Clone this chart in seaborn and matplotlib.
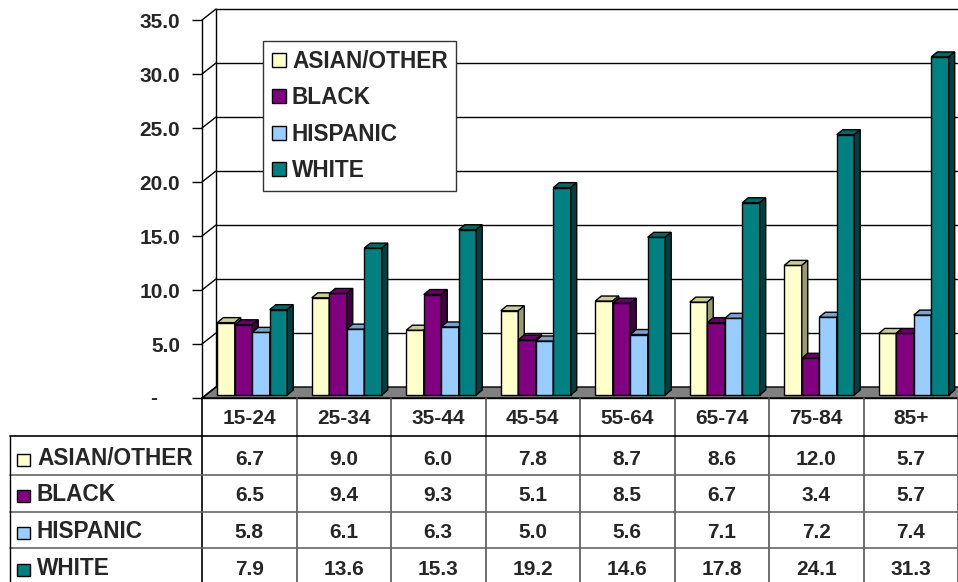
import matplotlib
matplotlib.use("Agg")
import matplotlib.pyplot as plt
from matplotlib.patches import Polygon, Rectangle, Patch
from matplotlib.lines import Line2D
from matplotlib.transforms import (Affine2D, IdentityTransform, ScaledTranslation,
                                   blended_transform_factory)
import numpy as np
import pandas as pd
import seaborn as sns

# ---- data -------------------------------------------------------------
age_groups = ["15-24", "25-34", "35-44", "45-54", "55-64", "65-74", "75-84", "85+"]
groups = ["ASIAN/OTHER", "BLACK", "HISPANIC", "WHITE"]
asian_other = [6.7, 9.0, 6.0, 7.8, 8.7, 8.6, 12.0, 5.7]
black = [6.5, 9.4, 9.3, 5.1, 8.5, 6.7, 3.4, 5.7]
hispanic = [5.8, 6.1, 6.3, 5.0, 5.6, 7.1, 7.2, 7.4]
white = [7.9, 13.6, 15.3, 19.2, 14.6, 17.8, 24.1, 31.3]
y_ticks = [0, 5, 10, 15, 20, 25, 30, 35]
y_tick_labels = ["", "5.0", "10.0", "15.0", "20.0", "25.0", "30.0", "35.0"]

series = [asian_other, black, hispanic, white]

# face colours: front, top, side
front_col = ["#FFFFCC", "#800080", "#99CCFF", "#008080"]
top_col = ["#CCCC99", "#660066", "#7AA3CC", "#006666"]
side_col = ["#999973", "#400040", "#4D6680", "#004040"]

W, H = 958, 582
sns.set_style("white")
plt.rcParams["font.family"] = ["Liberation Sans", "DejaVu Sans"]
plt.rcParams["font.weight"] = "bold"
FS = 15        # numbers
FS_WORD = 16.3  # series names

fig = plt.figure(figsize=(W / 100, H / 100), dpi=100)
# front plane of the plot: x 202..958 px, value 0 at y=398 px, 35 at y=20 px
ax = fig.add_axes([202 / W, (H - 398) / H, 756 / W, 378 / H])

df = pd.DataFrame({
    "age": age_groups * len(groups),
    "group": [g for g in groups for _ in age_groups],
    "rate": [v for s in series for v in s],
})
sns.barplot(data=df, x="age", y="rate", hue="group", order=age_groups,
            hue_order=groups, palette=front_col, saturation=1, width=0.74,
            gap=0, edgecolor="black", linewidth=1.0, errorbar=None,
            legend=False, ax=ax)

ax.set_xlim(-0.5, len(age_groups) - 0.5)
ax.set_ylim(0, 35)
ax.set_xlabel("")
ax.set_ylabel("")
ax.set_xticks([])
ax.set_yticks(y_ticks)
ax.set_yticklabels(y_tick_labels)
ax.tick_params(axis="y", left=True, length=7.2, width=1, color="black",
               pad=8.6, labelsize=FS)
for lab in ax.get_yticklabels():
    lab.set_fontweight("bold")
for s in ["top", "right", "bottom"]:
    ax.spines[s].set_visible(False)
ax.spines["left"].set_color("black")
ax.spines["left"].set_linewidth(1)
ax.spines["left"].set_zorder(6)
ax.patch.set_alpha(0)

ident = IdentityTransform()
DX, DY = 14, 11      # depth of the back wall, px
BX, BY = 3, 3        # bar front plane set back from the floor edge, px
BDX, BDY = 6, 5      # bar depth, px


def D(x, y):
    return np.asarray(ax.transData.transform((x, y)))


def line(p, q, color="black", lw=1.0, z=1.5):
    ax.add_line(Line2D([p[0], q[0]], [p[1], q[1]], transform=ident,
                       color=color, lw=lw, zorder=z, clip_on=False))


off = np.array([DX, DY])
x_lo, x_hi = -0.5, len(age_groups) - 0.5

# floor
fl = D(x_lo, 0)
fr = D(x_hi, 0) + np.array([40, 0])
ax.add_patch(Polygon([fl, fr, fr + off, fl + off], closed=True, transform=ident,
                     facecolor="#808080", edgecolor="black", lw=1.0, zorder=1.2,
                     clip_on=False))

# back wall: left edge, gridlines and the diagonal links to the front axis
line(D(x_lo, 0) + off, D(x_lo, 35) + off, z=1.4)
for v in y_ticks:
    if v > 0:
        line(D(x_lo, v) + off, D(x_hi, v) + off + np.array([40, 0]), z=1.3)
    line(D(x_lo, v), D(x_lo, v) + off, z=1.4)

# "-" label for zero
ax.text(0, 0, "-", transform=ax.get_yaxis_transform() + ScaledTranslation(-0.52, 0, fig.dpi_scale_trans),
        ha="left", va="center", fontsize=FS, fontweight="bold")

# 3-D bars: move the seaborn fronts onto the bar plane and add top/side faces
shift = ScaledTranslation(BX / 100, BY / 100, fig.dpi_scale_trans)
boff = np.array([BX, BY])
bdep = np.array([BDX, BDY])
for k, cont in enumerate(ax.containers):
    for rect in cont:
        rect.set_transform(ax.transData + shift)
        rect.set_zorder(3 + k)
        x0, w, h = rect.get_x(), rect.get_width(), rect.get_height()
        br = D(x0 + w, 0) + boff
        tl = D(x0, h) + boff
        tr = D(x0 + w, h) + boff
        ax.add_patch(Polygon([tl, tr, tr + bdep, tl + bdep], closed=True,
                             transform=ident, facecolor=top_col[k],
                             edgecolor="black", lw=1.0, zorder=3 + k, clip_on=False))
        ax.add_patch(Polygon([br, br + bdep, tr + bdep, tr], closed=True,
                             transform=ident, facecolor=side_col[k],
                             edgecolor="black", lw=1.0, zorder=3 + k, clip_on=False))

# legend
handles = [Patch(facecolor=c, edgecolor="black", linewidth=1) for c in front_col]
leg = ax.legend(handles, groups, loc="upper left", bbox_to_anchor=(263, H - 41),
                bbox_transform=ident, borderaxespad=0, frameon=True,
                fancybox=False, framealpha=1, edgecolor="#333333",
                prop={"size": FS_WORD, "weight": "bold"}, borderpad=0.38,
                labelspacing=0.6, handlelength=0.62, handleheight=0.58,
                handletextpad=0.28)
leg.get_frame().set_linewidth(1)
leg.set_zorder(20)

# ---- data table beneath the plot ---------------------------------------
ytop = Affine2D().scale(1, -1).translate(0, H)   # pixel rows counted from the top
col_tr = blended_transform_factory(ax.transData, ytop)

row_lines = [436, 475, 512, 548]
baselines = [424, 465, 501, 538, 575]

# front edge of the floor / top of the header row
line(D(x_lo, 0), D(x_hi, 0) + np.array([40, 0]), z=2)
# column boundaries
for j in range(len(age_groups) + 1):
    xj = D(x_lo + j, 0)[0]
    line((xj, H - 398), (xj, -5), color="#555555" if j else "black", lw=1.2, z=2)
# row boundaries
for i, yl in enumerate(row_lines):
    line((10, H - yl), (W + 5, H - yl), color="black" if i == 0 else "#666666",
         lw=1.2, z=2)
line((10, H - 436), (10, -5), z=2)

for j, lab in enumerate(age_groups):
    ax.text(j, baselines[0], lab, transform=col_tr, ha="center", va="baseline",
            fontsize=FS, fontweight="bold", clip_on=False)

for i, (g, vals) in enumerate(zip(groups, series)):
    b = baselines[i + 1]
    ax.add_patch(Rectangle((17, H - b - 1), 13, 12, transform=ident,
                           facecolor=front_col[i], edgecolor="black", lw=1.0,
                           zorder=5, clip_on=False))
    ax.text(37, H - b, g, transform=ident, ha="left", va="baseline",
            fontsize=FS_WORD, fontweight="bold", clip_on=False)
    for j, v in enumerate(vals):
        ax.text(j, b, f"{v:.1f}", transform=col_tr, ha="center", va="baseline",
                fontsize=FS, fontweight="bold", clip_on=False)

fig.savefig("out.png", dpi=100)
